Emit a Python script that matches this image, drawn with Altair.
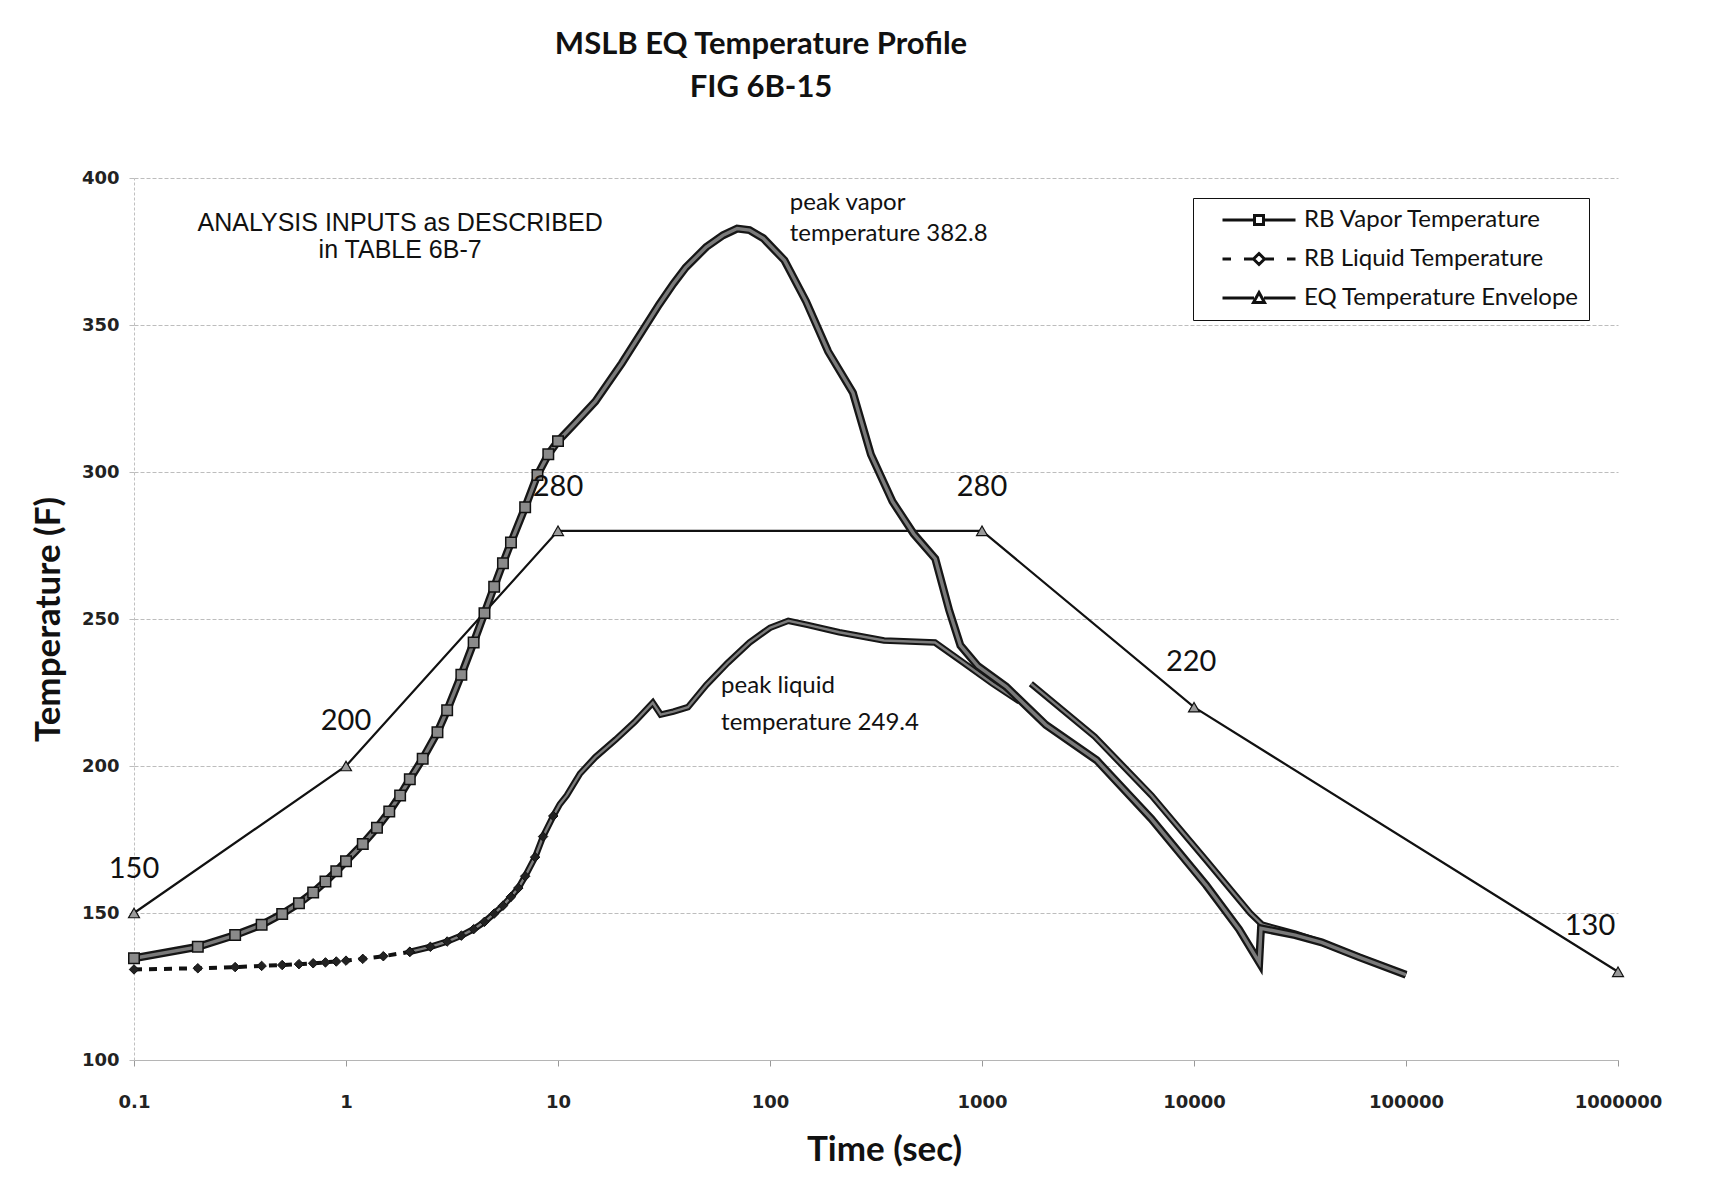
import altair as alt
import pandas as pd

# ---------------- data ----------------
SERIES = ["RB Vapor Temperature", "RB Liquid Temperature", "EQ Temperature Envelope"]

VAPOR_T = [0.1, 0.2, 0.3, 0.4, 0.5, 0.6, 0.7, 0.8, 0.9, 1.0,
           1.2, 1.4, 1.6, 1.8, 2.0, 2.3, 2.7, 3.0, 3.5, 4.0,
           4.5, 5.0, 5.5, 6.0, 7.0, 8.0, 9.0, 10, 12, 15,
           20, 25, 30, 35, 40, 50, 60, 70, 80, 93,
           117, 148, 188, 246, 299, 378, 476, 602, 700, 791,
           956, 1300, 2000, 3470, 6300, 11400, 16300, 20300, 20700, 30000,
           40000, 60000, 100000]
VAPOR_F = [134.6, 138.5, 142.5, 146.0, 149.7, 153.3, 157.0, 160.7, 164.2, 167.6,
           173.5, 179.0, 184.5, 190.0, 195.5, 202.5, 211.5, 219.0, 231.0, 242.0,
           252.0, 261.0, 269.0, 276.0, 288.0, 299.0, 306.0, 310.5, 316.5, 324.0,
           337.0, 348.0, 357.0, 364.0, 369.5, 376.5, 380.5, 382.8, 382.3, 379.5,
           372.0, 358.0, 341.0, 327.0, 306.0, 290.0, 279.0, 270.5, 253.0, 241.0,
           234.0, 227.0, 214.0, 202.0, 182.0, 159.5, 144.5, 133.2, 144.8, 142.5,
           140.0, 135.0, 129.0]

# liquid: early dashed part, main solid part, and late separate segment
LIQ_A_T = [0.1, 0.2, 0.3, 0.4, 0.5, 0.6, 0.7, 0.8, 0.9, 1.0, 1.2, 1.5, 2.0]
LIQ_A_F = [130.8, 131.2, 131.6, 132.0, 132.3, 132.6, 132.9, 133.2, 133.5, 133.8, 134.4, 135.3, 136.8]

LIQ_B_T = [2.0, 2.5, 3.0, 3.5, 4.0, 4.5, 5.0, 5.5, 6.0, 6.5,
           7.0, 7.8, 8.5, 9.5, 10.2, 11, 12.7, 15, 18.7, 23,
           28, 30.5, 35, 41, 50, 63, 80, 100, 122, 150,
           212, 345, 600, 822, 1122, 1500]
LIQ_B_F = [136.8, 138.5, 140.3, 142.3, 144.5, 147.0, 149.8, 152.5, 155.5, 158.5,
           162.5, 169.0, 176.0, 183.0, 187.0, 190.0, 197.4, 203.0, 209.0, 215.0,
           221.5, 217.5, 218.5, 220.0, 227.5, 235.0, 242.0, 247.0, 249.4, 248.0,
           245.5, 242.7, 242.0, 235.0, 228.0, 222.0]

LIQ_C_T = [1700, 3400, 6300, 11400, 18400, 21000, 30000, 40000, 60000, 100000]
LIQ_C_F = [228.0, 210.0, 190.0, 168.0, 150.0, 146.0, 143.0, 140.0, 135.0, 129.0]

ENV_T = [0.1, 1, 10, 1000, 10000, 1000000]
ENV_F = [150, 200, 280, 280, 220, 130]

X_TICKS = [0.1, 1, 10, 100, 1000, 10000, 100000, 1000000]
Y_TICKS = [100, 150, 200, 250, 300, 350, 400]

# value labels next to the envelope
VAL_TEXT = ["150", "200", "280", "280", "220", "130"]
VAL_T = [0.1, 1.0, 10, 1000, 9700, 738000]
VAL_F = [165.1, 215.3, 294.9, 294.9, 235.4, 145.6]

# notes
NOTE_TEXT = ["peak vapor", "temperature 382.8", "peak liquid", "temperature 249.4"]
NOTE_T = [124, 124, 58.8, 58.8]
NOTE_F = [391.5, 381.0, 227.2, 214.6]

INFO_TEXT = ["ANALYSIS INPUTS as DESCRIBED", "in TABLE 6B-7"]
INFO_T = [1.8, 1.8]
INFO_F = [384.7, 375.5]

# legend symbols: line segment + marker (custom symbol paths)
LEGEND_PATHS = [
    "M-7.3,0H-0.9M0.9,0H7.3M-0.9,-0.9H0.9V0.9H-0.9Z",
    "M-7.3,0H-5.6M-3.0,0H-1.1M1.1,0H3.0M5.6,0H7.3M0,-1.1L1.1,0L0,1.1L-1.1,0Z",
    "M-7.3,0H-1.0M1.0,0H7.3M0,-1.1L1.1,0.9H-1.1Z",
]


def frame(ts, fs, **extra):
    d = pd.DataFrame({"t": ts, "f": fs})
    for k, v in extra.items():
        d[k] = v
    return d


vapor = frame(VAPOR_T, VAPOR_F)
vapor_pts = vapor[vapor.t <= 10]
liq_a = frame(LIQ_A_T, LIQ_A_F, seg="a")
liq_b = frame(LIQ_B_T, LIQ_B_F, seg="b")
liq_c = frame(LIQ_C_T, LIQ_C_F, seg="c")
liq_solid = pd.concat([liq_b, liq_c], ignore_index=True)
liq_pts = pd.concat([liq_a, liq_b[liq_b.t <= 10]], ignore_index=True)
env = frame(ENV_T, ENV_F)
vals = pd.DataFrame({"t": VAL_T, "f": VAL_F, "txt": VAL_TEXT})
notes = pd.DataFrame({"t": NOTE_T, "f": NOTE_F, "txt": NOTE_TEXT})
info = pd.DataFrame({"t": INFO_T, "f": INFO_F, "txt": INFO_TEXT})
leg_df = pd.DataFrame({"series": SERIES, "t": [0.1, 0.1, 0.1], "f": [134.6, 130.8, 150.0]})

# ---------------- scales & axes ----------------
xaxis = alt.Axis(
    values=X_TICKS,
    labelExpr="datum.value < 1 ? '0.1' : format(datum.value, 'd')",
    grid=False, tickSize=6, tickColor="#999999", domainColor="#b5b5b5",
    labelFont="DejaVu Sans", labelFontSize=18, labelFontWeight="bold", labelColor="#222222",
    labelPadding=27, labelOverlap=False, labelFlush=False,
    titleFont="Lato", titleFontSize=35, titleFontWeight="bold", titleColor="#111111",
    titleX=750, titleY=89, titleBaseline="middle", titleAlign="center",
)
yaxis = alt.Axis(
    values=Y_TICKS, grid=True, gridColor="#bdbdbd", gridWidth=1, gridDash=[4, 2],
    tickSize=5, tickColor="#bdbdbd", domainColor="#c0c0c0", domainDash=[3, 2],
    labelFont="DejaVu Sans", labelFontSize=18, labelFontWeight="bold", labelColor="#222222",
    labelPadding=10,
    titleFont="Lato", titleFontSize=35, titleFontWeight="bold", titleColor="#111111",
    titleX=-86, titleY=441, titleAngle=270, titleBaseline="middle", titleAlign="center",
)
X = alt.X("t:Q", scale=alt.Scale(type="log", domain=[0.1, 1000000]), axis=xaxis, title="Time (sec)")
Y = alt.Y("f:Q", scale=alt.Scale(domain=[100, 400]), axis=yaxis, title="Temperature (F)")

# ---------------- layers ----------------
env_line = alt.Chart(env).mark_line(color="#111111", strokeWidth=2.2).encode(x=X, y=Y)
env_pts = alt.Chart(env).mark_point(shape="triangle-up", filled=True, fill="#9a9a9a", stroke="#111111",
                                    strokeWidth=1.2, size=120, opacity=1).encode(x=X, y=Y)

liq_dash = alt.Chart(liq_a).mark_line(color="#111111", strokeWidth=4, strokeDash=[8, 7]).encode(x=X, y=Y)
liq_outer = alt.Chart(liq_solid).mark_line(color="#161616", strokeWidth=6.5).encode(x=X, y=Y, detail="seg:N")
liq_inner = alt.Chart(liq_solid).mark_line(color="#7d7d7d", strokeWidth=2.4).encode(x=X, y=Y, detail="seg:N")
liq_mk = alt.Chart(liq_pts).mark_point(shape="diamond", filled=True, fill="#222222", stroke="#111111",
                                       strokeWidth=1, size=90, opacity=1).encode(x=X, y=Y)

vap_outer = alt.Chart(vapor).mark_line(color="#161616", strokeWidth=8).encode(x=X, y=Y)
vap_inner = alt.Chart(vapor).mark_line(color="#7a7a7a", strokeWidth=3.4).encode(x=X, y=Y)
vap_mk = alt.Chart(vapor_pts).mark_point(shape="square", filled=True, fill="#8a8a8a", stroke="#111111",
                                         strokeWidth=1.5, size=110, opacity=1).encode(x=X, y=Y)

legend_layer = alt.Chart(leg_df).mark_point(
    opacity=0, filled=False, stroke="#111111", strokeWidth=3, size=100
).encode(
    x=X, y=Y,
    shape=alt.Shape(
        "series:N", title=None,
        scale=alt.Scale(domain=SERIES, range=LEGEND_PATHS),
        legend=alt.Legend(
            orient="none", legendX=1059, legendY=20, direction="vertical",
            strokeColor="#111111", fillColor="white", padding=10,
            symbolSize=100, symbolStrokeWidth=3, symbolStrokeColor="#111111",
            symbolOpacity=1, symbolOffset=44,
            labelOffset=33, labelFont="Lato", labelFontSize=24, labelColor="#111111",
            rowPadding=15, labelLimit=400,
        ),
    ),
)

val_text = alt.Chart(vals).mark_text(font="Lato", fontSize=29, color="#111111", align="center",
                                     baseline="middle").encode(x=X, y=Y, text="txt:N")
note_text = alt.Chart(notes).mark_text(font="Lato", fontSize=24, color="#111111", align="left",
                                       baseline="middle").encode(x=X, y=Y, text="txt:N")
info_text = alt.Chart(info).mark_text(font="Liberation Sans", fontSize=25, color="#111111", align="center",
                                      baseline="middle").encode(x=X, y=Y, text="txt:N")

chart = alt.layer(
    env_line, env_pts,
    liq_dash, liq_outer, liq_inner, liq_mk,
    vap_outer, vap_inner, vap_mk,
    legend_layer, val_text, note_text, info_text,
).properties(
    width=1484, height=882,
    autosize=alt.AutoSizeParams(type="none"),
    padding={"left": 126, "top": 170, "right": 87, "bottom": 112},
    title=alt.TitleParams(
        text=["MSLB EQ Temperature Profile", "FIG 6B-15"],
        font="Lato", fontSize=31, fontWeight="bold", color="#111111",
        anchor="middle", frame="group", dx=-115, offset=34, lineHeight=43, baseline="bottom",
    ),
    background="white",
).configure_view(strokeWidth=0)

chart.save("out.html", embed_options={"renderer": "svg", "actions": False})
